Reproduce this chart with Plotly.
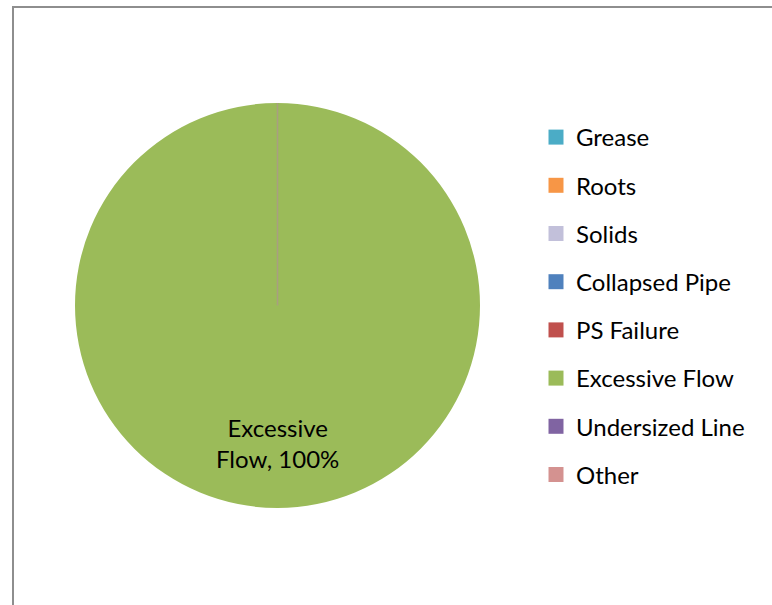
import plotly.graph_objects as go

# Overflow causes and their share of events (percent)
causes = ["Grease", "Roots", "Solids", "Collapsed Pipe", "PS Failure",
          "Excessive Flow", "Undersized Line", "Other"]
shares = [0, 0, 0, 0, 0, 100, 0, 0]
colors = ["#4BACC6", "#F79646", "#C2C0DA", "#4F81BD", "#C0504D",
          "#9BBB59", "#8064A2", "#D49290"]

W, H = 772, 605
FONT = "Lato"
FS = 24

# pie placement in paper coordinates
cx, cy, r = 277.5, 305.5, 202.5
dom_x = [(cx - r) / W, (cx + r) / W]
dom_y = [1 - (cy + r) / H, 1 - (cy - r) / H]

fig = go.Figure()
fig.add_trace(go.Pie(
    labels=causes, values=shares, sort=False, direction="clockwise",
    rotation=0, marker=dict(colors=colors, line=dict(width=0)),
    textinfo="none", hoverinfo="label+percent", showlegend=False,
    domain=dict(x=dom_x, y=dom_y),
))

# legend entries, one per cause
for name, col in zip(causes, colors):
    fig.add_trace(go.Scatter(
        x=[None], y=[None], mode="markers", name=name,
        marker=dict(symbol="square", size=15, color=col),
        legendgroup=name, showlegend=True,
    ))

# boundary between the zero-size slices and the full slice
fig.add_shape(type="line", xref="paper", yref="paper",
              x0=cx / W, x1=cx / W, y0=1 - cy / H, y1=dom_y[1],
              line=dict(color="#A99E80", width=1.5))

# data label of the largest slice
total = sum(shares)
top = max(range(len(shares)), key=lambda i: shares[i])
pct = round(100 * shares[top] / total)
fig.add_annotation(
    xref="paper", yref="paper", x=cx / W, y=1 - (cy + 137) / H,
    xanchor="center", yanchor="middle",
    text=causes[top].replace(" ", "<br>", 1) + f", {pct}%",
    showarrow=False, font=dict(family=FONT, size=FS, color="#000000"),
    align="center",
)

# chart border
fig.add_shape(type="rect", xref="paper", yref="paper",
              x0=13 / W, x1=1.02, y0=-0.02, y1=1 - 7 / H,
              line=dict(color="#8E8E8E", width=2), layer="above")

fig.update_layout(
    width=W, height=H, margin=dict(l=0, r=0, t=0, b=0),
    paper_bgcolor="white", plot_bgcolor="white",
    xaxis=dict(visible=False), yaxis=dict(visible=False),
    font=dict(family=FONT, size=FS, color="#000000"),
    legend=dict(x=536 / W, y=1 - 115 / H, xanchor="left", yanchor="top",
                tracegroupgap=14, font=dict(family=FONT, size=FS),
                bgcolor="rgba(0,0,0,0)"),
)

fig.write_html("out.html")
